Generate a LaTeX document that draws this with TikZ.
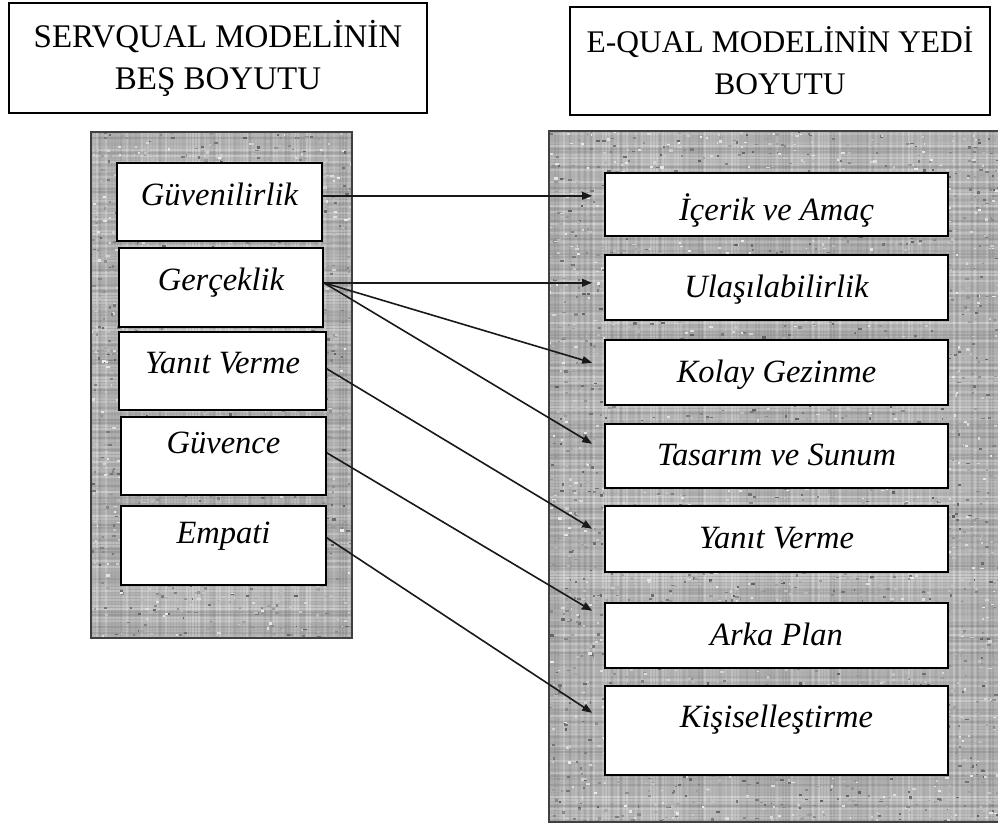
\documentclass[tikz,border=0pt]{standalone}
\usepackage{fontspec}
\setmainfont{Liberation Serif}
\usetikzlibrary{arrows.meta}

% Speckled grey panel: base tone, faint woven lines and random grain
\newcommand\grainpanel[4]{%
  \begin{scope}
    \clip (#1,#2) rectangle (#3,#4);
    \fill[black!32] (#1,#2) rectangle (#3,#4);
    \pgfmathtruncatemacro\nv{(#3-#1)/3}
    \pgfmathtruncatemacro\nh{(#4-#2)/3}
    \foreach \i in {0,...,\nv} {
      \pgfmathtruncatemacro\sh{rnd*55}
      \draw[black!\sh, line width=1.2pt, opacity=.3] (#1+\i*3,#2) -- (#1+\i*3,#4);
    }
    \foreach \i in {0,...,\nh} {
      \pgfmathtruncatemacro\sh{rnd*55}
      \draw[black!\sh, line width=1.2pt, opacity=.3] (#1,#2+\i*3) -- (#3,#2+\i*3);
    }
    \pgfmathtruncatemacro\ns{((#3-#1)/9)*((#4-#2)/10)}
    \foreach \i in {1,...,\ns} {
      \pgfmathsetmacro\px{#1+rnd*(#3-#1)}
      \pgfmathsetmacro\py{#2+rnd*(#4-#2)}
      \pgfmathtruncatemacro\sh{8+rnd*55}
      \fill[black!\sh] (\px,\py) rectangle ++(1.5+rnd*2.5,1.2+rnd*1.5);
    }
  \end{scope}
}

\begin{document}
\begin{tikzpicture}[x=1pt,y=-1pt,
  header/.style={draw, line width=1.5pt, fill=white, align=center,
    font=\fontsize{33}{42}\selectfont, inner sep=0pt},
  dimbox/.style={draw, line width=1.6pt, fill=white, inner xsep=0pt,
    inner ysep=0pt, anchor=north, font=\fontsize{32.5}{38}\selectfont\itshape},
  link/.style={line width=1.6pt, black!90, -{Triangle[length=10pt,width=7.5pt]}},
  panel/.style={draw=black!75, line width=1.3pt}
]
\useasboundingbox (0,0) rectangle (998,826);
\fill[white] (0,0) rectangle (998,826);
\pgfmathsetseed{42}

% grey panels behind the two columns
\grainpanel{91}{132}{352}{638}
\draw[panel] (91,132) rectangle (352,638);
\grainpanel{549}{131}{1004}{822}
\draw[panel] (549,131) rectangle (1004,822);

% column headings
\node[header, minimum width=418pt, minimum height=110pt] (hl) at (218,58)
  {SERVQUAL MODELİNİN\\BEŞ BOYUTU};
\node[header, minimum width=420pt, minimum height=108pt,
  font=\fontsize{31.5}{42}\selectfont] (hr) at (780,61)
  {E-QUAL MODELİNİN YEDİ\\BOYUTU};

% SERVQUAL dimensions
\node[dimbox, minimum width=205pt, text height=43pt, text depth=35pt] (s1) at (219.5,162) {Güvenilirlik};
\node[dimbox, minimum width=204pt, text height=43pt, text depth=36pt] (s2) at (221,247) {Gerçeklik};
\node[dimbox, minimum width=207pt, text height=42pt, text depth=36pt] (s3) at (222.5,331) {Yanıt Verme};
\node[dimbox, minimum width=205pt, text height=37pt, text depth=41pt] (s4) at (223.5,416) {Güvence};
\node[dimbox, minimum width=205pt, text height=38pt, text depth=41pt] (s5) at (223.5,505) {Empati};

% E-QUAL dimensions
\node[dimbox, minimum width=343pt, text height=48pt, text depth=15pt] (r1) at (776.5,172) {İçerik ve Amaç};
\node[dimbox, minimum width=343pt, text height=43pt, text depth=22pt] (r2) at (776.5,254) {Ulaşılabilirlik};
\node[dimbox, minimum width=343pt, text height=43pt, text depth=22pt] (r3) at (776.5,339) {Kolay Gezinme};
\node[dimbox, minimum width=343pt, text height=42pt, text depth=22pt] (r4) at (776.5,423) {Tasarım ve Sunum};
\node[dimbox, minimum width=343pt, text height=43pt, text depth=23pt] (r5) at (776.5,505) {Yanıt Verme};
\node[dimbox, minimum width=343pt, text height=43pt, text depth=22pt] (r6) at (776.5,602) {Arka Plan};
\node[dimbox, minimum width=343pt, text height=42pt, text depth=47pt] (r7) at (776.5,685) {Kişiselleştirme};

% correspondences
\draw[link] ([yshift=6pt]s1.east)   -- ([xshift=-12pt,yshift=8.5pt]r1.west);
\draw[link] ([yshift=4.5pt]s2.east) -- ([xshift=-12pt,yshift=4.5pt]r2.west);
\draw[link] ([yshift=4.5pt]s2.east) -- ([xshift=-12pt,yshift=9.5pt]r3.west);
\draw[link] ([yshift=4.5pt]s2.east) -- ([xshift=-12pt,yshift=12pt]r4.west);
\draw[link] ([yshift=2pt]s3.east)   -- ([xshift=-12pt,yshift=10pt]r5.west);
\draw[link] ([yshift=3pt]s4.east)   -- ([xshift=-12pt,yshift=24.5pt]r6.west);
\draw[link] ([yshift=7.5pt]s5.east) -- ([xshift=-12pt,yshift=17.5pt]r7.west);
\end{tikzpicture}
\end{document}
